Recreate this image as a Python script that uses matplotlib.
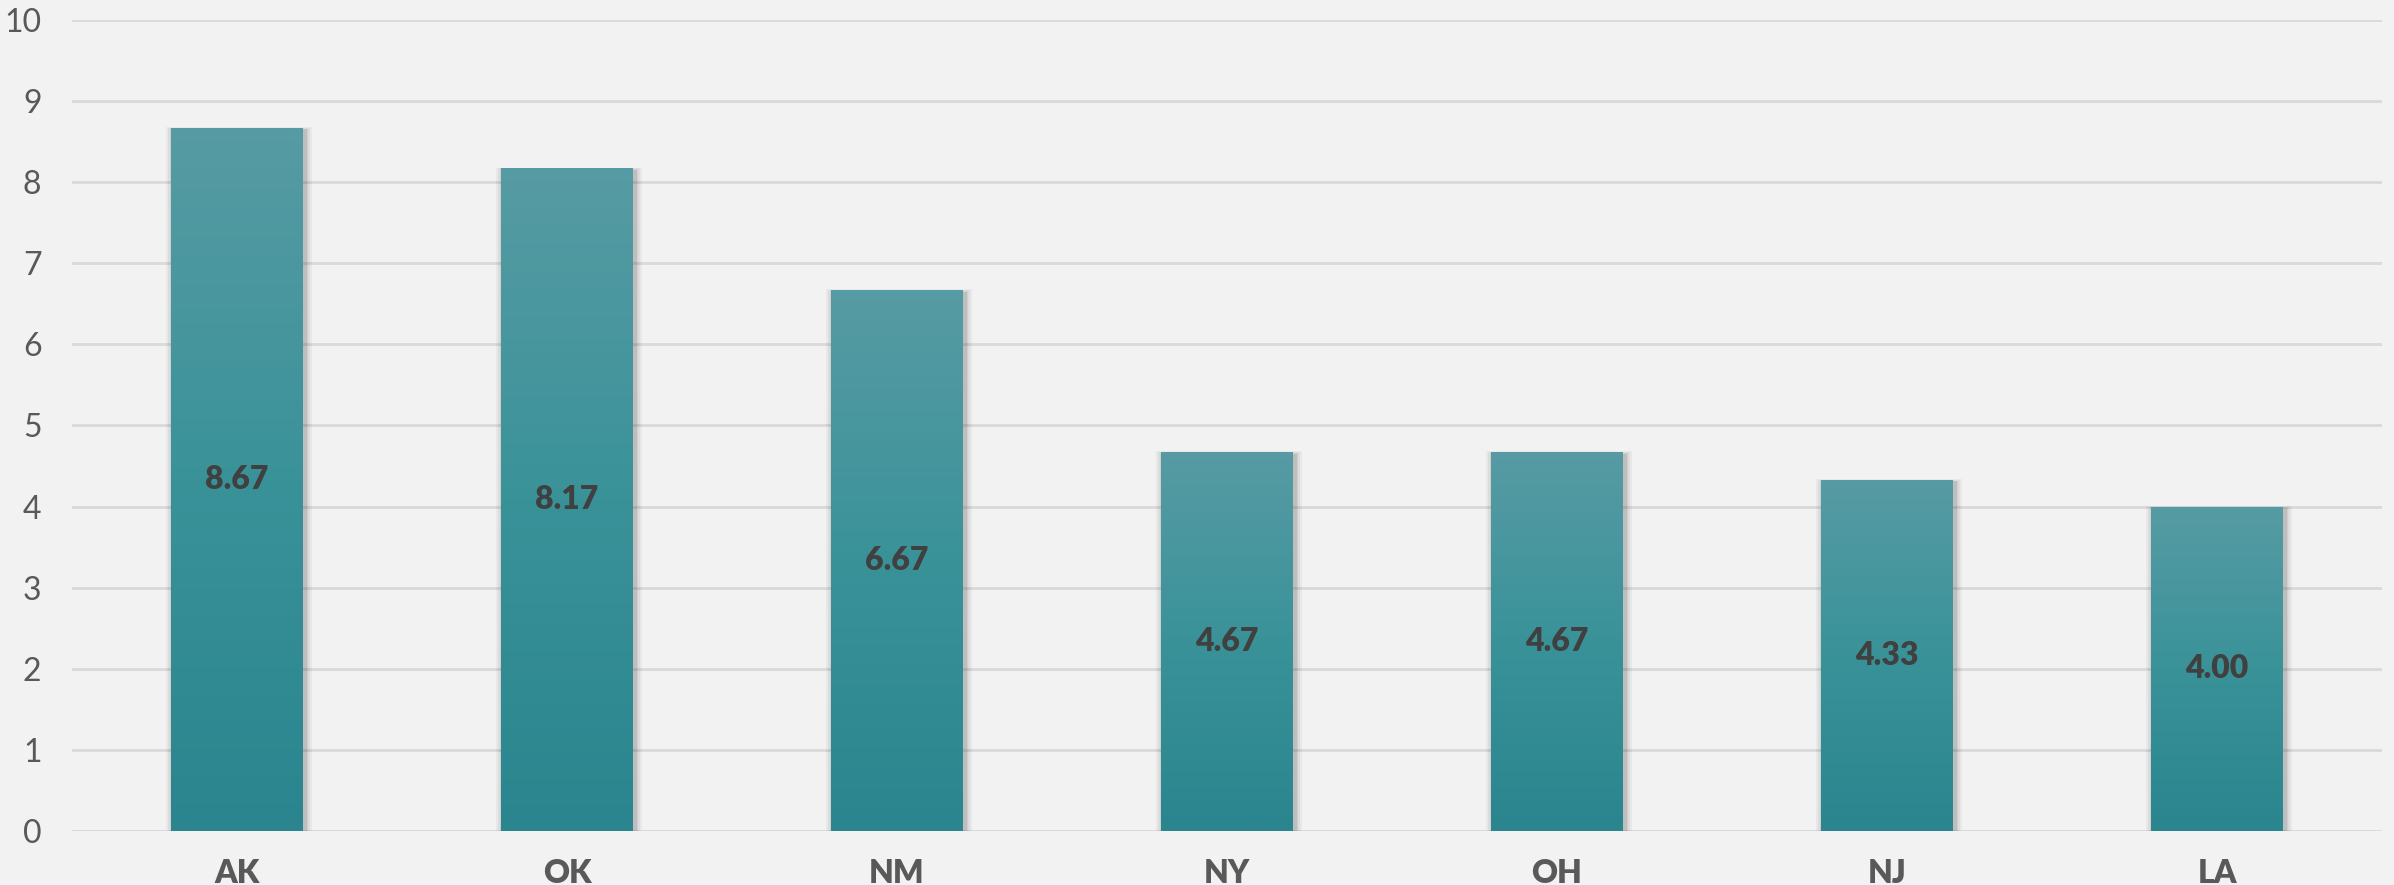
import matplotlib
matplotlib.use("Agg")
import matplotlib.pyplot as plt
import numpy as np
from matplotlib.patches import Rectangle
from matplotlib.colors import LinearSegmentedColormap

categories = ["AK", "OK", "NM", "NY", "OH", "NJ", "LA"]
values = [8.67, 8.17, 6.67, 4.67, 4.67, 4.33, 4.00]
labels = ["8.67", "8.17", "6.67", "4.67", "4.67", "4.33", "4.00"]
yticks = [0, 1, 2, 3, 4, 5, 6, 7, 8, 9, 10]

plt.rcParams['font.family'] = ['Lato', 'DejaVu Sans']

W, H, DPI = 2394, 885, 100
fig = plt.figure(figsize=(W / DPI, H / DPI), dpi=DPI, facecolor="#F2F2F2")
ax = fig.add_axes([72 / W, 1 - 831 / H, (2382 - 72) / W, (831 - 20) / H])
ax.set_facecolor("#F2F2F2")
ax.set_xlim(-0.5, len(categories) - 0.5)
ax.set_ylim(0, 10)

for s in ax.spines.values():
    s.set_visible(False)
ax.set_yticks(yticks)
ax.set_yticklabels([str(t) for t in yticks], fontsize=23, color="#595959")
ax.yaxis.grid(True, color="#D9D9D9", linewidth=2)
ax.set_axisbelow(True)
ax.tick_params(axis="y", length=0, pad=22)
ax.tick_params(axis="x", length=0, pad=20)
ax.set_xticks(range(len(categories)))
ax.set_xticklabels(categories, fontsize=23, fontweight="heavy", color="#595959")

cmap = LinearSegmentedColormap.from_list("g", ["#2A858E", "#3A9299", "#579BA4"])
grad = np.linspace(0, 1, 256).reshape(-1, 1)
bw = 0.40
for i, v in enumerate(values):
    # soft shadow
    for k, a in enumerate([0.04, 0.05, 0.06, 0.08]):
        d = (4 - k) * 0.005
        ax.add_patch(Rectangle((i - bw / 2 - d + 0.006, 0), bw + 2 * d, v + d * 2 - 0.03,
                               facecolor="black", alpha=a, edgecolor="none", zorder=2))
    rect = Rectangle((i - bw / 2, 0), bw, v, facecolor="none", edgecolor="none", zorder=3)
    ax.add_patch(rect)
    im = ax.imshow(grad, cmap=cmap, aspect="auto", origin="lower",
                   extent=(i - bw / 2, i + bw / 2, 0, v), zorder=3)
    im.set_clip_path(rect)
    ax.text(i, v / 2, labels[i], ha="center", va="center", fontsize=23,
            fontweight="heavy", color="#404040", zorder=4)

ax.set_xlim(-0.5, len(categories) - 0.5)
ax.set_ylim(0, 10)
fig.savefig("out.png", dpi=DPI, facecolor=fig.get_facecolor())
